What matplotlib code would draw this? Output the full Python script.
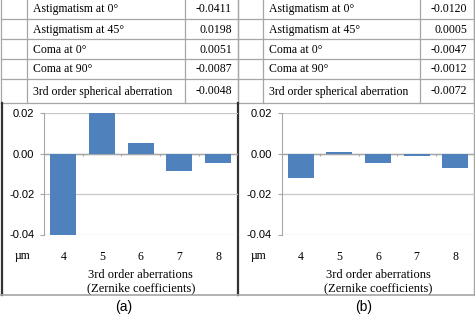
import numpy as np
import matplotlib.pyplot as plt

# table rows and Zernike coefficients (um) for the two cases
aberrations = ["Astigmatism at 0°", "Astigmatism at 45°", "Coma at 0°",
               "Coma at 90°", "3rd order spherical aberration"]
zernike_index = [4, 5, 6, 7, 8]
coef_a = [-0.0411, 0.0198, 0.0051, -0.0087, -0.0048]
coef_b = [-0.0120, 0.0005, -0.0047, -0.0012, -0.0072]
yticks = [0.02, 0.00, -0.02, -0.04]
panel_labels = ["(a)", "(b)"]

W, H = 475, 321
serif = "Liberation Serif"
sans = "Liberation Sans"
line_c = "#a6a6a6"
bar_c = "#4F81BD"

fig = plt.figure(figsize=(W / 100, H / 100), dpi=100)

# overlay in pixel coords for the table and the panel frames
ov = fig.add_axes([0, 0, 1, 1])
ov.set_xlim(0, W)
ov.set_ylim(H, 0)
ov.axis("off")

row_edges = [-2, 18.5, 39, 58.5, 78.5, 102.5]
panel_cols = [[0.5, 27, 185, 238], [238, 263, 420, 473.5]]

for cols, coefs in zip(panel_cols, [coef_a, coef_b]):
    for y in row_edges[1:]:
        ov.plot([cols[0], cols[-1]], [y, y], color=line_c, lw=0.9)
    for x in cols:
        ov.plot([x, x], [row_edges[0], row_edges[-1]], color=line_c, lw=0.9)
    for i, (name, v) in enumerate(zip(aberrations, coefs)):
        yc = (row_edges[i] + row_edges[i + 1]) / 2 + 1
        ov.text(cols[1] + 6, yc, name, family=serif, fontsize=8.5,
                ha="left", va="center")
        ov.text(cols[3] - 6, yc, f"{v:.4f}", family=serif, fontsize=8.5,
                ha="right", va="center")

# chart frames
ov.plot([1.5, 1.5], [102.5, 295], color="#333333", lw=1.6)
ov.plot([238, 238], [102.5, 295], color="#333333", lw=1.6)
ov.plot([0, W], [295, 295], color=line_c, lw=1.2)
ov.plot([473.5, 473.5], [0, 295], color=line_c, lw=1.0)


def draw_panel(ax, coefs):
    x = np.arange(len(zernike_index))
    ax.bar(x, coefs, width=0.67, color=bar_c, zorder=3)
    ax.set_xlim(-0.5, len(x) - 0.5)
    ax.set_ylim(-0.04, 0.02)
    ax.set_facecolor("none")
    for s in ["top", "right", "bottom"]:
        ax.spines[s].set_visible(False)
    ax.spines["left"].set_color(line_c)
    ax.set_yticks(yticks)
    ax.set_yticklabels([f"{t:.2f}" for t in yticks], family=sans, fontsize=8)
    ax.tick_params(axis="y", length=3, color=line_c, pad=4)
    ax.grid(axis="y", color="#c8c8c8", lw=0.9, zorder=0)
    ax.axhline(0, color=line_c, lw=1.0, zorder=2)
    # small category separator ticks on the zero line
    ax.vlines(x[:-1] + 0.5, -0.0012, 0, color=line_c, lw=0.9, zorder=2)
    ax.set_xticks(x)
    ax.set_xticklabels([str(k) for k in zernike_index], family=serif, fontsize=8.5)
    ax.tick_params(axis="x", length=0, pad=12)
    ax.set_xlabel("3rd order aberrations\n(Zernike coefficients)",
                  family=serif, fontsize=9, labelpad=4, linespacing=1.15)


ax_a = fig.add_axes([44 / W, 1 - 234.5 / H, (237.5 - 44) / W, 121.5 / H])
ax_b = fig.add_axes([281.5 / W, 1 - 234.5 / H, (474.5 - 281.5) / W, 121.5 / H])
draw_panel(ax_a, coef_a)
draw_panel(ax_b, coef_b)

ov.text(22.5, 256, "µm", family=serif, fontsize=8.5, ha="center", va="center")
ov.text(258.5, 256, "µm", family=serif, fontsize=8.5, ha="center", va="center")
ov.text(123.5, 307, panel_labels[0], family=sans, fontsize=10, ha="center", va="center")
ov.text(363.5, 307, panel_labels[1], family=sans, fontsize=10, ha="center", va="center")

fig.savefig("out.png", dpi=100)
